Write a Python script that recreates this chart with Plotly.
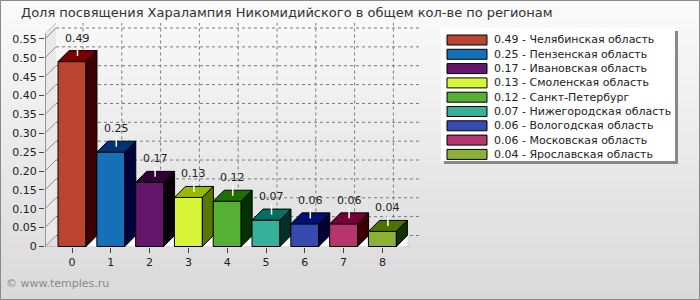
import plotly.graph_objects as go

# ---------------- data ----------------
categories = [0, 1, 2, 3, 4, 5, 6, 7, 8]
values = [0.49, 0.25, 0.17, 0.13, 0.12, 0.07, 0.06, 0.06, 0.04]
regions = ["Челябинская область", "Пензенская область", "Ивановская область",
           "Смоленская область", "Санкт-Петербург", "Нижегородская область",
           "Вологодская область", "Московская область", "Ярославская область"]
front_colors = ["#BB4430", "#1570B8", "#63166B", "#D8F53A", "#55B035",
                "#35B09A", "#364AB0", "#B6356B", "#8CB038"]
top_colors = ["#7A0000", "#00337A", "#2E0035", "#98BA00", "#1E6E00",
              "#007060", "#001074", "#760035", "#4E7200"]
side_colors = ["#3C0000", "#00003C", "#0A000A", "#587800", "#003200",
               "#00302A", "#000038", "#380000", "#0E3200"]
y_ticks = [0, 0.05, 0.10, 0.15, 0.20, 0.25, 0.30, 0.35, 0.40, 0.45, 0.50, 0.55]
y_tick_labels = ["0", "0.05", "0.10", "0.15", "0.20", "0.25", "0.30", "0.35",
                 "0.40", "0.45", "0.50", "0.55"]
title = "Доля посвящения Харалампия Никомидийского в общем кол-ве по регионам"
footer = "© www.temples.ru"

# ---------------- geometry (pixels) ----------------
W, H = 700, 300
L, R, T, B = 45, 421, 23, 247          # plot area incl. back wall
CAT0_PX, CAT_PX = 72.0, 38.8           # first category centre, spacing
Y0_PX, PPU = 246.5, 377.3              # pixel of y=0, pixels per unit
DEPTH = 11                             # 3D depth in px
BAR_W = 0.72

xmin = (L - CAT0_PX) / CAT_PX
xmax = (R - CAT0_PX) / CAT_PX
ymin = (Y0_PX - B) / PPU
ymax = (Y0_PX - T) / PPU
DX = DEPTH / CAT_PX
DY = DEPTH / PPU
x_front_right = (R - DEPTH - CAT0_PX) / CAT_PX
y_front_top = (Y0_PX - (T + DEPTH)) / PPU
y_axis_line = (Y0_PX - 247.5) / PPU


def pxx(p):
    return (p - L) / (R - L)


def pxy(p):
    return (B - p) / (B - T)


fig = go.Figure()

# background gradient bands
shapes = []
n = 60
for k in range(n):
    t = k / (n - 1)
    c = int(251 - (251 - 218) * t)
    y0 = k * H / n
    y1 = (k + 1) * H / n + 0.6
    shapes.append(dict(type="rect", xref="paper", yref="paper", layer="below",
                       x0=pxx(0), x1=pxx(W), y0=pxy(y1), y1=pxy(y0),
                       line=dict(width=0), fillcolor=f"rgb({c},{c},{c})"))

# outer border
shapes.append(dict(type="rect", xref="paper", yref="paper", layer="above",
                   x0=pxx(0.5), x1=pxx(W - 0.5), y0=pxy(H - 0.5), y1=pxy(0.5),
                   line=dict(color="#8a8a8a", width=1)))

# legend box with shadow
LG_X0, LG_X1, LG_Y0, LG_Y1 = 441, 675, 28, 161
shapes.append(dict(type="rect", xref="paper", yref="paper", layer="above",
                   x0=pxx(LG_X0 + 3), x1=pxx(LG_X1 + 3), y0=pxy(LG_Y1 + 3), y1=pxy(LG_Y0 + 3),
                   line=dict(width=0), fillcolor="#888888"))
shapes.append(dict(type="rect", xref="paper", yref="paper", layer="above",
                   x0=pxx(LG_X0), x1=pxx(LG_X1), y0=pxy(LG_Y1), y1=pxy(LG_Y0),
                   line=dict(width=0), fillcolor="#ffffff"))

annotations = []
for i, (v, reg) in enumerate(zip(values, regions)):
    cy = 40 + i * 14.3
    shapes.append(dict(type="rect", xref="paper", yref="paper", layer="above",
                       x0=pxx(447), x1=pxx(487), y0=pxy(cy + 5), y1=pxy(cy - 5),
                       line=dict(color="#000000", width=1), fillcolor=front_colors[i]))
    annotations.append(dict(xref="paper", yref="paper", x=pxx(492), y=pxy(cy),
                            text=f"{v:.2f} - {reg}", showarrow=False,
                            xanchor="left", yanchor="middle",
                            font=dict(family="DejaVu Sans", size=11, color="#222222")))

# title and footer
annotations.append(dict(xref="paper", yref="paper", x=pxx(19), y=pxy(12),
                        text=title, showarrow=False, xanchor="left", yanchor="middle",
                        font=dict(family="DejaVu Sans", size=13, color="#333333")))
annotations.append(dict(xref="paper", yref="paper", x=pxx(4), y=pxy(283),
                        text=footer, showarrow=False, xanchor="left", yanchor="middle",
                        font=dict(family="DejaVu Sans", size=11, color="#8a8a8a")))

# ---------------- walls ----------------
# left wall
fig.add_trace(go.Scatter(
    x=[xmin, xmin + DX, xmin + DX, xmin, xmin],
    y=[y_axis_line, y_axis_line + DY, ymax, y_front_top, y_axis_line],
    fill="toself", fillcolor="#e9e9e9", line=dict(width=0), mode="lines",
    hoverinfo="skip", showlegend=False))
# left wall top edge
fig.add_trace(go.Scatter(x=[xmin, xmin + DX], y=[y_front_top, ymax], mode="lines",
                         line=dict(color="#c8c8c8", width=1),
                         hoverinfo="skip", showlegend=False))

# back wall grid (dotted)
gx, gy = [], []
for yt in y_ticks:
    gx += [xmin + DX, xmax, None]
    gy += [yt + DY, yt + DY, None]
for c in categories:
    gx += [c + DX, c + DX, None]
    gy += [DY, ymax, None]
fig.add_trace(go.Scatter(x=gx, y=gy, mode="lines",
                         line=dict(color="#7a7a7a", width=1, dash="dot"),
                         hoverinfo="skip", showlegend=False))

# left wall diagonals
dx_, dy_ = [], []
for yt in y_ticks:
    dx_ += [xmin, xmin + DX, None]
    dy_ += [yt, yt + DY, None]
fig.add_trace(go.Scatter(x=dx_, y=dy_, mode="lines",
                         line=dict(color="#8c8c8c", width=1),
                         hoverinfo="skip", showlegend=False))

# axis lines
fig.add_trace(go.Scatter(x=[xmin, xmin, x_front_right],
                         y=[y_front_top, y_axis_line, y_axis_line], mode="lines",
                         line=dict(color="#6a6a6a", width=1.3),
                         hoverinfo="skip", showlegend=False))

# ---------------- 3D bars ----------------
for i, (c, v) in enumerate(zip(categories, values)):
    x0, x1 = c - BAR_W / 2, c + BAR_W / 2
    # floor triangle under side face
    fig.add_trace(go.Scatter(x=[x1, x1 + DX, x1 + DX, x1], y=[0, 0, DY, 0],
                             fill="toself", fillcolor="#ffffff", mode="lines",
                             line=dict(width=0), hoverinfo="skip", showlegend=False))
    # front
    fig.add_trace(go.Scatter(x=[x0, x1, x1, x0, x0], y=[0, 0, v, v, 0],
                             fill="toself", fillcolor=front_colors[i], mode="lines",
                             line=dict(color="#000000", width=1),
                             hoverinfo="skip", showlegend=False))
    # top
    fig.add_trace(go.Scatter(x=[x0, x1, x1 + DX, x0 + DX, x0],
                             y=[v, v, v + DY, v + DY, v],
                             fill="toself", fillcolor=top_colors[i], mode="lines",
                             line=dict(color="#000000", width=1),
                             hoverinfo="skip", showlegend=False))
    # side
    fig.add_trace(go.Scatter(x=[x1, x1 + DX, x1 + DX, x1, x1],
                             y=[0, DY, v + DY, v, 0],
                             fill="toself", fillcolor=side_colors[i], mode="lines",
                             line=dict(color="#000000", width=1),
                             hoverinfo="skip", showlegend=False))
    # leader line
    lx = c + DX / 2
    fig.add_trace(go.Scatter(x=[lx, lx], y=[v + DY / 2, v + DY / 2 + 10 / PPU],
                             mode="lines", line=dict(color="#ffffff", width=1.5),
                             hoverinfo="skip", showlegend=False))
    annotations.append(dict(x=lx, y=v + DY / 2 + 18 / PPU, xref="x", yref="y",
                            text=f"{v:.2f}", showarrow=False,
                            xanchor="center", yanchor="middle",
                            font=dict(family="DejaVu Sans", size=11, color="#222222")))

fig.update_layout(
    width=W, height=H,
    margin=dict(l=L, r=W - R, t=T, b=H - B, pad=0),
    paper_bgcolor="#e8e8e8", plot_bgcolor="rgba(0,0,0,0)",
    showlegend=False,
    shapes=shapes, annotations=annotations,
    xaxis=dict(range=[xmin, xmax], tickmode="array", tickvals=categories,
               ticktext=[str(c) for c in categories],
               showgrid=False, zeroline=False, showline=False,
               ticks="outside", ticklen=5, tickcolor="#444444",
               tickfont=dict(family="DejaVu Sans", size=11, color="#222222"),
               fixedrange=True),
    yaxis=dict(range=[ymin, ymax], tickmode="array", tickvals=y_ticks,
               ticktext=y_tick_labels,
               showgrid=False, zeroline=False, showline=False,
               ticks="outside", ticklen=5, tickcolor="#444444",
               tickfont=dict(family="DejaVu Sans", size=11, color="#222222"),
               fixedrange=True),
)

fig.write_html("out.html", config={"displayModeBar": False})
